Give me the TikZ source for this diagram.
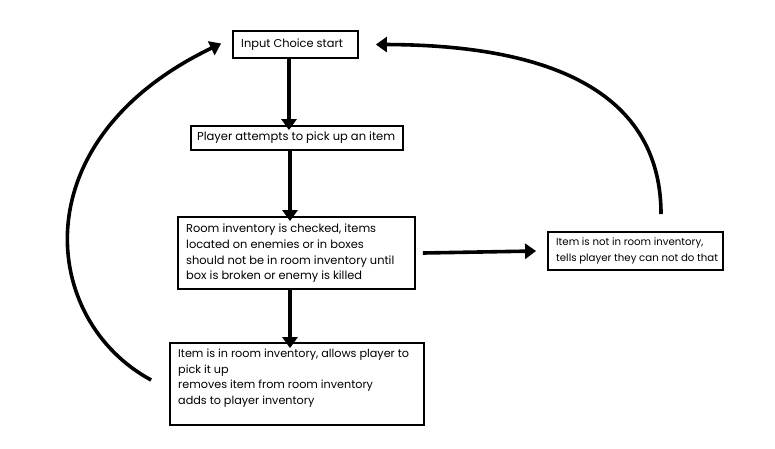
\documentclass[tikz,border=0pt]{standalone}
\usepackage{fontspec}
\setmainfont{Poppins}
\usetikzlibrary{arrows.meta}
\begin{document}
\begin{tikzpicture}[x=1pt,y=-1pt,
  box/.style={draw=black,line width=1.8pt,fill=white,inner sep=0pt},
  txt/.style={inner sep=0pt,anchor=north west,align=left,font=\fontsize{11.4}{15.6}\selectfont},
  flow/.style={line width=3.6pt,-{Triangle[length=11pt,width=15pt]}}]
\useasboundingbox[fill=white] (0,0) rectangle (775,448);
\node[box,minimum width=125pt,minimum height=27pt] (start) at (295.5,44.5) {};
\node[box,minimum width=212pt,minimum height=24pt] (pick) at (297,138) {};
\node[box,minimum width=237pt,minimum height=72pt] (room) at (296.5,253) {};
\node[box,minimum width=175pt,minimum height=38pt] (notin) at (635.5,251) {};
\node[box,minimum width=254pt,minimum height=82pt] (isin) at (297,384) {};
\node[txt] (startt) at (241,39) {Input Choice start};
\node[txt,font=\fontsize{11.5}{15}\selectfont] (pickt) at (197,132) {Player attempts to pick up an item};
\node[txt] (roomt) at (186,224) {Room inventory is checked, items\\located on enemies or in boxes\\should not be in room inventory until\\box is broken or enemy is killed};
\node[txt,font=\fontsize{10.2}{15.6}\selectfont] (notint) at (556,237.5) {Item is not in room inventory,\\tells player they can not do that};
\node[txt,font=\fontsize{11.2}{15.6}\selectfont] (isint) at (178,349) {Item is in room inventory, allows player to\\pick it up\\removes item from room inventory\\adds to player inventory};
\draw[flow] (start.south -| 289,0) -- ([yshift=-5pt]pick.north -| 289,0);
\draw[flow] (pick.south -| 290,0) -- ([yshift=-5pt]room.north -| 290,0);
\draw[flow] (room.south -| 290,0) -- ([yshift=-6pt]isin.north -| 290,0);
\draw[flow] ([xshift=7pt]room.east) -- ([xshift=-11pt]notin.west);
\draw[flow] (notin.north -| 661,0) ++(0,-17) .. controls (661,110) and (580,45) .. ([xshift=17pt]start.east);
\draw[flow] (isin.west) ++(-18,-4) .. controls (40,320) and (20,140) .. ([xshift=-11pt,yshift=1pt]start.west);
\end{tikzpicture}
\end{document}
